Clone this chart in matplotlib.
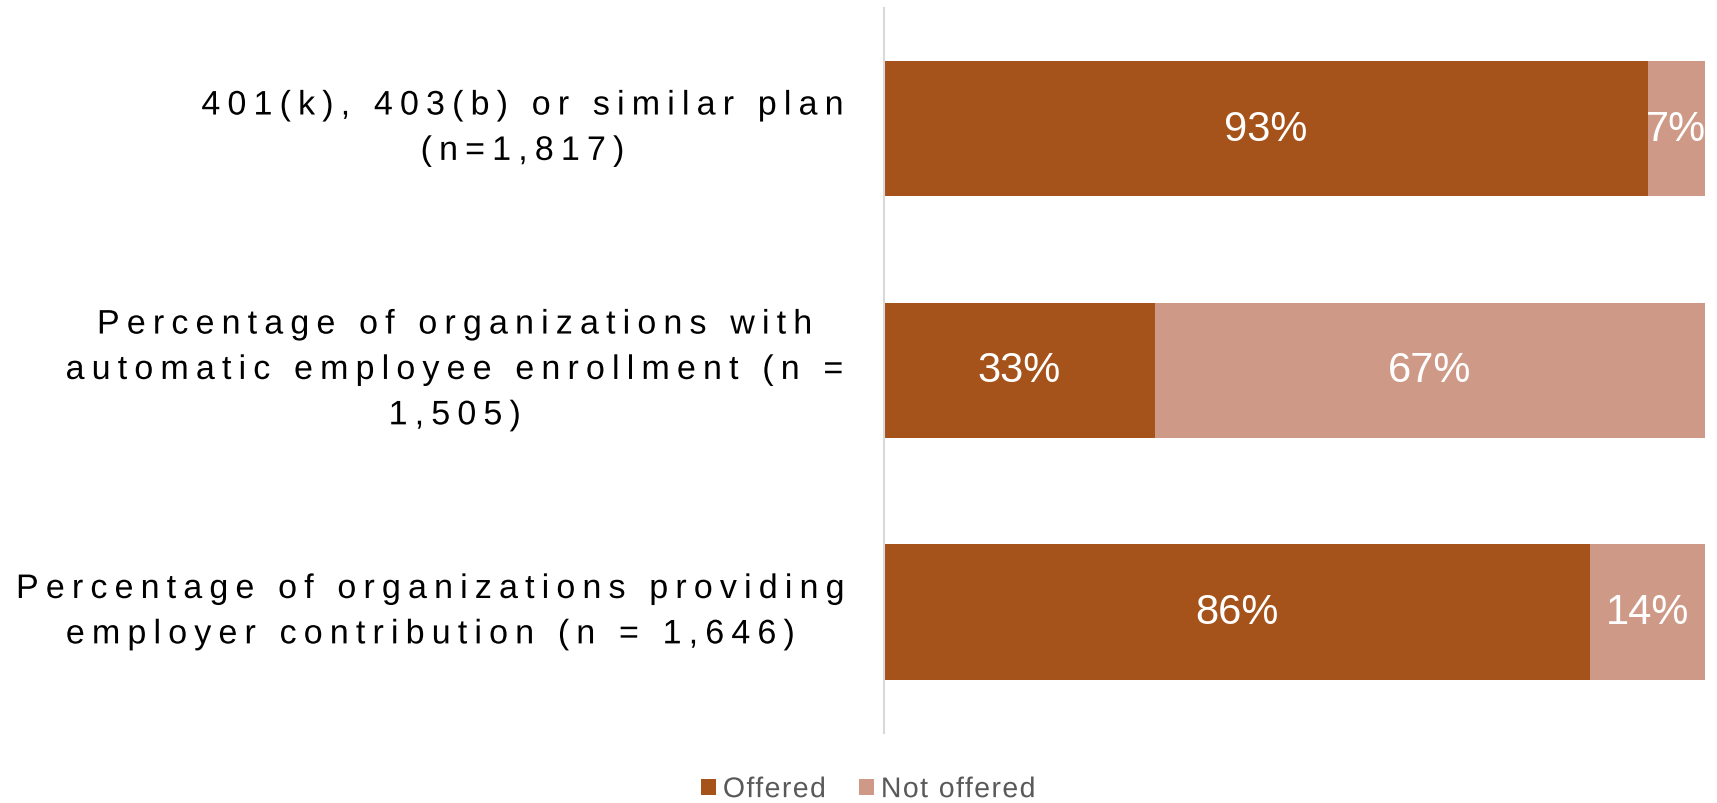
import numpy as np
import matplotlib.pyplot as plt
from matplotlib import transforms
from matplotlib.path import Path
from matplotlib.patheffects import AbstractPathEffect
from matplotlib.font_manager import FontProperties
from matplotlib.textpath import text_to_path

plt.rcParams['font.family'] = ['Liberation Sans', 'DejaVu Sans']

categories = [
    "401(k), 403(b) or similar plan\n(n=1,817)",
    "Percentage of organizations with\nautomatic employee enrollment (n =\n1,505)",
    "Percentage of organizations providing\nemployer contribution (n = 1,646)",
]
series = ['Offered', 'Not offered']
offered = [93, 33, 86]
not_offered = [7, 67, 14]

c_offered = '#A5531A'
c_not = '#CE9A87'

LABEL_SIZE = 24.5
LABEL_TRACK = 0.21   # letter spacing of the category labels, in em
LEGEND_TRACK = 0.05


def glyph_steps(path):
    # letter index of every vertex of a text path (em = 100 units);
    # a wide gap between two letters counts as one more step (the space)
    verts, codes = path.vertices, path.codes
    starts = list(np.flatnonzero(codes == Path.MOVETO)) + [len(codes)]
    steps = np.zeros(len(verts))
    step, right = -1, None
    for a, b in zip(starts[:-1], starts[1:]):
        keep = codes[a:b] != Path.CLOSEPOLY
        xs = verts[a:b][keep, 0]
        if len(xs) == 0:
            steps[a:b] = max(step, 0)
            continue
        if right is None or xs.min() > right - 1:
            if right is not None and xs.min() - right > 22:
                step += 1
            step += 1
            right = xs.max()
        else:
            right = max(right, xs.max())
        steps[a:b] = step
    return steps


class Tracking(AbstractPathEffect):
    """Spread the letters of a text out by `track` em."""

    def __init__(self, track, anchor=0.5):
        super().__init__()
        self.track = track
        self.anchor = anchor

    def draw_path(self, renderer, gc, tpath, affine, rgbFace=None):
        steps = glyph_steps(tpath)
        verts = tpath.vertices.copy()
        if len(steps):
            verts[:, 0] += (steps - self.anchor * steps.max()) * self.track * 100
        renderer.draw_path(gc, Path(verts, tpath.codes), affine, rgbFace)


fig = plt.figure(figsize=(17.17, 8.04), dpi=100)
ax = fig.add_axes([0.5149, 0.087, 0.4781, 0.902])


def tracked_width(s, prop, track):
    # ink width (pixels) of one line of text after spreading
    verts, codes = text_to_path.get_text_path(prop, s)
    path = Path(verts, codes)
    steps = glyph_steps(path)
    xs = path.vertices[path.codes != Path.CLOSEPOLY, 0]
    size_px = prop.get_size_in_points() * fig.dpi / 72
    return (xs.max() - xs.min() + steps.max() * track * 100) * size_px / 100


y = np.arange(len(categories))
h = 0.56
ax.barh(y, offered, height=h, color=c_offered, label=series[0])
ax.barh(y, not_offered, left=offered, height=h, color=c_not, label=series[1])

for i in range(len(categories)):
    ax.text(offered[i] / 2, y[i], f"{offered[i]}%", ha='center', va='center',
            color='white', fontsize=30)
    ax.text(offered[i] + not_offered[i] / 2, y[i], f"{not_offered[i]}%",
            ha='center', va='center', color='white', fontsize=30)

ax.set_xlim(0, 100)
ax.set_ylim(2.5, -0.5)
ax.set_xticks([])
ax.set_yticks([])
for s in ['top', 'right', 'bottom']:
    ax.spines[s].set_visible(False)
ax.spines['left'].set_color('#D9D9D9')
ax.spines['left'].set_linewidth(1.5)

# category labels: right edge a fixed gap left of the axis, lines centred
fig_w = fig.get_figwidth() * fig.dpi
label_right = ax.get_position().x0 * fig_w - 42
prop = FontProperties(family=['Liberation Sans', 'DejaVu Sans'], size=LABEL_SIZE)
trans = transforms.blended_transform_factory(fig.transFigure, ax.transData)
for i, lab in enumerate(categories):
    w = max(tracked_width(line, prop, LABEL_TRACK) for line in lab.split('\n'))
    ax.text((label_right - w / 2) / fig_w, y[i], lab, transform=trans,
            ha='center', va='center', multialignment='center',
            fontproperties=prop, linespacing=1.6, color='black',
            path_effects=[Tracking(LABEL_TRACK)])

leg = fig.legend(loc='center', bbox_to_anchor=(0.5015, 0.016), ncol=2,
                 frameon=False, fontsize=20.5, labelcolor='#595959',
                 handlelength=0.53, handleheight=0.53, handletextpad=0.25,
                 columnspacing=1.45, borderpad=0.2)
for t in leg.get_texts():
    t.set_path_effects([Tracking(LEGEND_TRACK, anchor=0)])

fig.savefig('out.png', dpi=100)
